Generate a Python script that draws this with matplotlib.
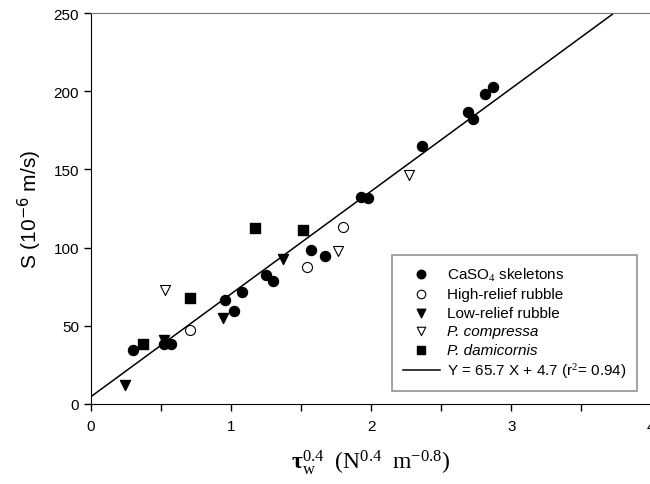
import matplotlib
matplotlib.use("Agg")
import matplotlib.pyplot as plt
import numpy as np

plt.rcParams["font.family"] = ["Liberation Sans", "DejaVu Sans"]
plt.rcParams["mathtext.fontset"] = "custom"
plt.rcParams["mathtext.rm"] = "Liberation Serif"
plt.rcParams["mathtext.it"] = "Liberation Serif:italic"
plt.rcParams["mathtext.bf"] = "Liberation Serif:bold"

# Data
caso4_x = [0.30, 0.52, 0.57, 0.96, 1.02, 1.08, 1.25, 1.30, 1.57, 1.67, 1.93, 1.98,
           2.36, 2.69, 2.73, 2.81, 2.87]
caso4_y = [34.5, 38.5, 38.5, 66.5, 59.5, 71.5, 82.5, 78.5, 98.5, 94.5, 132.5, 131.5,
           165.0, 187.0, 182.5, 198.5, 202.5]

high_x = [0.71, 1.54, 1.80]
high_y = [47.5, 87.5, 113.5]

low_x = [0.24, 0.52, 0.94, 1.37]
low_y = [12.0, 41.0, 55.0, 92.5]

compressa_x = [0.53, 1.76, 2.27]
compressa_y = [73.0, 98.0, 146.5]

damicornis_x = [0.37, 0.71, 1.17, 1.51]
damicornis_y = [38.5, 67.5, 112.5, 111.5]

slope, intercept = 65.7, 4.7

fig = plt.figure(figsize=(6.5, 4.85), dpi=100)
ax = fig.add_axes([0.14, 0.165, 0.862, 0.806])

ms = 52
h_low = ax.scatter(low_x, low_y, marker="v", s=ms, c="black", zorder=3)
h_ca = ax.scatter(caso4_x, caso4_y, marker="o", s=ms, c="black", zorder=4)
h_high = ax.scatter(high_x, high_y, marker="o", s=ms, facecolors="white",
                    edgecolors="black", linewidths=0.8, zorder=4)
h_comp = ax.scatter(compressa_x, compressa_y, marker="v", s=ms, facecolors="white",
                    edgecolors="black", linewidths=0.8, zorder=4)
h_dam = ax.scatter(damicornis_x, damicornis_y, marker="s", s=44, c="black", zorder=4)

xl = np.array([-intercept / slope, 4.0])
(h_fit,) = ax.plot(xl, slope * xl + intercept, color="black", lw=1.1, zorder=2)

ax.set_xlim(0, 4)
ax.set_ylim(0, 250)
ax.set_xticks([0, 1, 2, 3, 4])
ax.set_xticks([0.5, 1.5, 2.5, 3.5], minor=True)
ax.set_yticks([0, 50, 100, 150, 200, 250])
ax.tick_params(axis="both", which="both", direction="out", length=5, width=1,
               labelsize=11)
ax.tick_params(axis="x", pad=6)
ax.spines["top"].set_color("#777777")
ax.spines["right"].set_visible(False)

ax.set_ylabel(r"S (10$^{\mathsf{-6}}$ m/s)", fontsize=15, labelpad=8)
ax.set_xlabel(r"$\mathbf{\tau}_{\mathrm{w}}^{\mathrm{0.4}}\ \ \mathrm{(N^{0.4}\ \ m^{-0.8})}$",
              fontsize=17, labelpad=10)

handles = [h_ca, h_high, h_low, h_comp, h_dam, h_fit]
labels = [r"CaSO$_4$ skeletons", "High-relief rubble", "Low-relief rubble",
          "P. compressa", "P. damicornis", r"Y = 65.7 X + 4.7 (r$^2$= 0.94)"]
leg = ax.legend(handles, labels, loc="lower right", bbox_to_anchor=(0.975, 0.033),
                borderaxespad=0, fontsize=11, frameon=True, fancybox=False,
                edgecolor="#777777", handlelength=2.4, borderpad=0.7,
                labelspacing=0.3, handletextpad=0.5, markerscale=0.85)
leg.get_frame().set_linewidth(1.2)
for t in leg.get_texts():
    if t.get_text().startswith("P."):
        t.set_fontstyle("italic")

fig.savefig("out.png", dpi=100)
